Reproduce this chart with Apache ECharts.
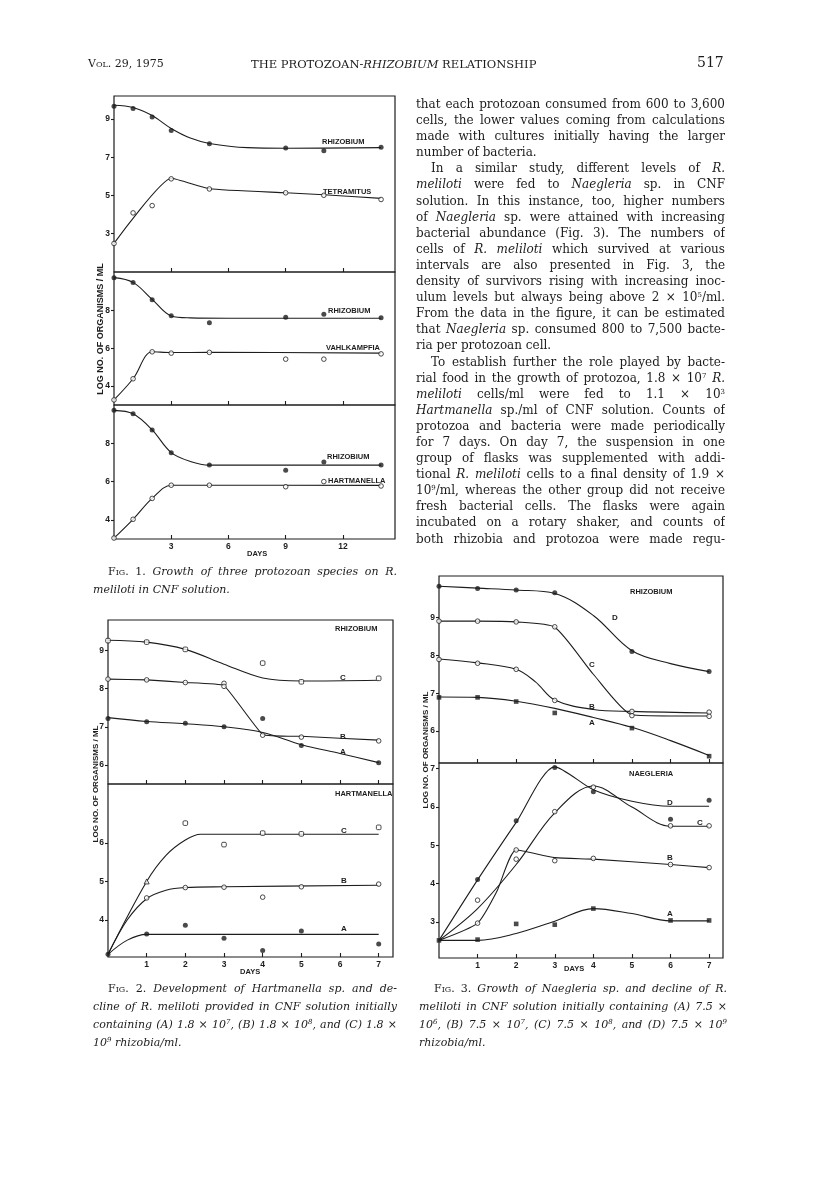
<!doctype html>
<html lang="en">
<head>
<meta charset="UTF-8">
<title>The Protozoan-Rhizobium Relationship</title>
<script src="https://cdn.jsdelivr.net/npm/echarts@6/dist/echarts.min.js"></script>
<style>
    html, body { margin: 0; padding: 0; background: #fff; }
    #page { position: relative; width: 816px; height: 1178px; overflow: hidden; background: #fff; }
    #chart { position: absolute; left: 0; top: 0; width: 816px; height: 1178px; }
    .blk { position: absolute; font-family: "DejaVu Serif", serif; color: #1c1c1c; }
    .blk .ln { text-align: justify; text-align-last: justify; overflow: hidden; }
    .blk .ln.end { text-align-last: left; }
    .blk .ind { padding-left: 15px; }
    .body { font-size: 12px; }
    .body .ln { height: 16.1px; line-height: 16.1px; }
    .cap { font-size: 11px; }
    .cap .ln { height: 18px; line-height: 18px; }
    .sc { font-variant: small-caps; font-style: normal; }
    sup { font-size: 7px; line-height: 0; vertical-align: 4px; }
    .head { position: absolute; top: 57px; font-family: "DejaVu Serif", serif; color: #1c1c1c; }
</style>
</head>
<body>
<div id="page">
    <div id="chart"></div>

    <!-- running head -->
    <div class="head sc" style="left:88px;font-size:11px;">Vol. 29, 1975</div>
    <div class="head" style="left:251px;font-size:11.5px;">THE PROTOZOAN-<i>RHIZOBIUM</i> RELATIONSHIP</div>
    <div class="head" style="left:697px;font-size:14px;top:54px;">517</div>

    <!-- right column text -->
    <div class="blk body" style="left:416px;top:96px;width:309px;">
        <div class="ln">that each protozoan consumed from 600 to 3,600</div>
        <div class="ln">cells, the lower values coming from calculations</div>
        <div class="ln">made with cultures initially having the larger</div>
        <div class="ln end">number of bacteria.</div>
        <div class="ln ind">In a similar study, different levels of <i>R.</i></div>
        <div class="ln"><i>meliloti</i> were fed to <i>Naegleria</i> sp. in CNF</div>
        <div class="ln">solution. In this instance, too, higher numbers</div>
        <div class="ln">of <i>Naegleria</i> sp. were attained with increasing</div>
        <div class="ln">bacterial abundance (Fig. 3). The numbers of</div>
        <div class="ln">cells of <i>R. meliloti</i> which survived at various</div>
        <div class="ln">intervals are also presented in Fig. 3, the</div>
        <div class="ln">density of survivors rising with increasing inoc-</div>
        <div class="ln">ulum levels but always being above 2 &times; 10<sup>5</sup>/ml.</div>
        <div class="ln">From the data in the figure, it can be estimated</div>
        <div class="ln">that <i>Naegleria</i> sp. consumed 800 to 7,500 bacte-</div>
        <div class="ln end">ria per protozoan cell.</div>
        <div class="ln ind">To establish further the role played by bacte-</div>
        <div class="ln">rial food in the growth of protozoa, 1.8 &times; 10<sup>7</sup> <i>R.</i></div>
        <div class="ln"><i>meliloti</i> cells/ml were fed to 1.1 &times; 10<sup>3</sup></div>
        <div class="ln"><i>Hartmanella</i> sp./ml of CNF solution. Counts of</div>
        <div class="ln">protozoa and bacteria were made periodically</div>
        <div class="ln">for 7 days. On day 7, the suspension in one</div>
        <div class="ln">group of flasks was supplemented with addi-</div>
        <div class="ln">tional <i>R. meliloti</i> cells to a final density of 1.9 &times;</div>
        <div class="ln">10<sup>9</sup>/ml, whereas the other group did not receive</div>
        <div class="ln">fresh bacterial cells. The flasks were again</div>
        <div class="ln">incubated on a rotary shaker, and counts of</div>
        <div class="ln">both rhizobia and protozoa were made regu-</div>
    </div>

    <!-- captions -->
    <div class="blk cap" style="left:93px;top:563px;width:304px;font-style:italic;">
        <div class="ln ind"><span class="sc">Fig. 1.</span> Growth of three protozoan species on R.</div>
        <div class="ln end">meliloti in CNF solution.</div>
    </div>
    <div class="blk cap" style="left:93px;top:980px;width:304px;font-style:italic;">
        <div class="ln ind"><span class="sc">Fig. 2.</span> Development of Hartmanella sp. and de-</div>
        <div class="ln">cline of R. meliloti provided in CNF solution initially</div>
        <div class="ln">containing (A) 1.8 &times; 10<sup>7</sup>, (B) 1.8 &times; 10<sup>8</sup>, and (C) 1.8 &times;</div>
        <div class="ln end">10<sup>9</sup> rhizobia/ml.</div>
    </div>
    <div class="blk cap" style="left:419px;top:980px;width:308px;font-style:italic;">
        <div class="ln ind"><span class="sc">Fig. 3.</span> Growth of Naegleria sp. and decline of R.</div>
        <div class="ln">meliloti in CNF solution initially containing (A) 7.5 &times;</div>
        <div class="ln">10<sup>6</sup>, (B) 7.5 &times; 10<sup>7</sup>, (C) 7.5 &times; 10<sup>8</sup>, and (D) 7.5 &times; 10<sup>9</sup></div>
        <div class="ln end">rhizobia/ml.</div>
    </div>
</div>

<script type="text/javascript">
    var INK = '#1d1d1d';

    // ---------- Fig. 1 : three protozoa on R. meliloti (log no./ml vs days) ----------
    var f1Days = [0, 1, 2, 3, 5, 9, 11, 14];
    var f1XTicks = [3, 6, 9, 12];
    // top panel
    var f1aRhizo = [9.66, 9.55, 9.10, 8.40, 7.71, 7.48, 7.34, 7.52];
    var f1aTetra = [2.49, 4.09, 4.47, 5.87, 5.34, 5.14, 5.01, 4.79];
    var f1aRhizoFit = [[0, 9.72], [1, 9.6], [2, 9.18], [3, 8.5], [4, 8.0], [5, 7.72], [7, 7.5], [9, 7.47], [14, 7.5]];
    var f1aTetraFit = [[0, 2.5], [3, 5.9], [5, 5.35], [9, 5.14], [11, 5.04], [14, 4.85]];
    var f1aYTicks = [3, 5, 7, 9];
    // middle panel
    var f1bRhizo = [9.75, 9.50, 8.58, 7.73, 7.36, 7.65, 7.81, 7.63];
    var f1bVahl = [3.27, 4.39, 5.82, 5.75, 5.79, 5.43, 5.43, 5.71];
    var f1bRhizoFit = [[0, 9.75], [1, 9.5], [2, 8.6], [3, 7.72], [4, 7.62], [6, 7.6], [14, 7.6]];
    var f1bVahlFit = [[0, 3.27], [1, 4.39], [2, 5.82], [3, 5.78], [5, 5.79], [14, 5.75]];
    var f1bYTicks = [4, 6, 8];
    // bottom panel
    var f1cRhizo = [9.72, 9.54, 8.70, 7.51, 6.86, 6.59, 7.02, 6.86];
    var f1cHart = [3.05, 4.03, 5.12, 5.81, 5.81, 5.73, 6.00, 5.77];
    var f1cRhizoFit = [[0, 9.72], [1, 9.54], [2, 8.7], [3, 7.51], [4, 7.05], [5, 6.86], [14, 6.86]];
    var f1cHartFit = [[0, 3.05], [1, 4.03], [2, 5.12], [3, 5.81], [5, 5.81], [14, 5.8]];
    var f1cYTicks = [4, 6, 8];

    // ---------- Fig. 2 : Hartmanella, inocula A/B/C ----------
    var dayTicks = [1, 2, 3, 4, 5, 6, 7];
    // top panel, rhizobium
    var f2aCDays = [0, 1, 2, 4, 5, 7];
    var f2aC = [9.26, 9.22, 9.03, 8.67, 8.18, 8.27];
    var f2aBDays = [0, 1, 2, 3, 3, 4, 5, 7];
    var f2aB = [8.25, 8.23, 8.16, 8.14, 8.06, 6.78, 6.73, 6.63];
    var f2aADays = [0, 1, 2, 3, 4, 5, 7];
    var f2aA = [7.22, 7.13, 7.09, 7.00, 7.22, 6.51, 6.06];
    var f2aCFit = [[0, 9.27], [1, 9.22], [2, 9.03], [3, 8.64], [4, 8.28], [5, 8.2], [7, 8.22]];
    var f2aBFit = [[0, 8.25], [1, 8.23], [2, 8.16], [3, 8.08], [4, 6.8], [5, 6.75], [7, 6.65]];
    var f2aAFit = [[0, 7.24], [1, 7.14], [2, 7.08], [3, 7.0], [4, 6.85], [5, 6.53], [6, 6.3], [7, 6.06]];
    var f2aYTicks = [6, 7, 8, 9];
    // bottom panel, hartmanella
    var f2bADays = [0, 1, 2, 3, 4, 5, 7];
    var f2bA = [3.10, 3.63, 3.86, 3.52, 3.20, 3.71, 3.37];
    var f2bBDays = [1, 2, 3, 4, 5, 7];
    var f2bB = [4.57, 4.84, 4.85, 4.59, 4.86, 4.93];
    var f2bCDays = [1, 2, 3, 4, 5, 7];
    var f2bC = [5.00, 6.52, 5.96, 6.26, 6.24, 6.41];
    var f2bAFit = [[0, 3.1], [0.5, 3.47], [1, 3.62], [7, 3.62]];
    var f2bBFit = [[0, 3.1], [0.5, 4.0], [1, 4.55], [1.5, 4.77], [2, 4.84], [3, 4.86], [7, 4.9]];
    var f2bCFit = [[0, 3.1], [1, 5.0], [1.5, 5.68], [2, 6.08], [2.4, 6.23], [7, 6.23]];
    var f2bYTicks = [4, 5, 6];

    // ---------- Fig. 3 : Naegleria, inocula A/B/C/D ----------
    var f3aDays = [0, 1, 2, 3, 5, 7];
    var f3aA = [6.89, 6.89, 6.78, 6.48, 6.08, 5.34];
    var f3aB = [7.89, 7.79, 7.63, 6.81, 6.52, 6.50];
    var f3aC = [8.90, 8.90, 8.88, 8.75, 6.41, 6.39];
    var f3aD = [9.82, 9.76, 9.72, 9.65, 8.10, 7.57];
    var f3aAFit = [[0, 6.9], [1, 6.89], [2, 6.79], [3, 6.6], [4, 6.36], [5, 6.1], [6, 5.75], [7, 5.36]];
    var f3aBFit = [[0, 7.9], [1, 7.8], [2, 7.63], [2.5, 7.3], [3, 6.82], [4, 6.57], [5, 6.52], [7, 6.48]];
    var f3aCFit = [[0, 8.9], [1, 8.9], [2, 8.88], [3, 8.74], [4, 7.5], [5, 6.43], [6, 6.4], [7, 6.4]];
    var f3aDFit = [[0, 9.82], [1, 9.77], [2, 9.72], [3, 9.63], [4, 9.05], [5, 8.12], [6, 7.78], [7, 7.57]];
    var f3aYTicks = [6, 7, 8, 9];
    var f3bADays = [0, 1, 2, 3, 4, 6, 7];
    var f3bA = [2.52, 2.54, 2.95, 2.93, 3.35, 3.04, 3.04];
    var f3bDays = [1, 2, 3, 4, 6, 7];
    var f3bB = [2.97, 4.88, 4.60, 4.66, 4.50, 4.42];
    var f3bC = [3.57, 4.64, 5.88, 6.52, 5.51, 5.51];
    var f3bD = [4.11, 5.64, 7.03, 6.40, 5.68, 6.18];
    var f3bAFit = [[0, 2.52], [1, 2.52], [2, 2.7], [3, 3.02], [4, 3.35], [5, 3.22], [6, 3.03], [7, 3.03]];
    var f3bBFit = [[0, 2.52], [1, 2.97], [1.5, 3.8], [2, 4.88], [3, 4.68], [4, 4.64], [6, 4.5], [7, 4.42]];
    var f3bCFit = [[0, 2.52], [1, 3.35], [2, 4.5], [3, 5.85], [4, 6.55], [5, 6.0], [6, 5.5], [7, 5.5]];
    var f3bDFit = [[0, 2.52], [1, 4.1], [2, 5.6], [3, 7.05], [4, 6.45], [5, 6.15], [6, 6.02], [7, 6.02]];
    var f3bYTicks = [3, 4, 5, 6, 7];

    //面板布局 (page pixels)
    var panels = [
        {grid: {left: 114, top: 96, width: 281, height: 176}, x: [0, 14.73], y: [1, 10.2], xt: f1XTicks, yt: f1aYTicks, lab: false},
        {grid: {left: 114, top: 272, width: 281, height: 133}, x: [0, 14.73], y: [3, 10.05], xt: f1XTicks, yt: f1bYTicks, lab: false},
        {grid: {left: 114, top: 405, width: 281, height: 134}, x: [0, 14.73], y: [3, 10], xt: f1XTicks, yt: f1cYTicks, lab: true},
        {grid: {left: 108, top: 620, width: 285, height: 164}, x: [0, 7.37], y: [5.5, 9.8], xt: dayTicks, yt: f2aYTicks, lab: false},
        {grid: {left: 108, top: 784, width: 285, height: 173}, x: [0, 7.37], y: [3.03, 7.54], xt: dayTicks, yt: f2bYTicks, lab: true},
        {grid: {left: 439, top: 576, width: 284, height: 187}, x: [0, 7.36], y: [5.16, 10.09], xt: dayTicks, yt: f3aYTicks, lab: false},
        {grid: {left: 439, top: 763, width: 284, height: 195}, x: [0, 7.36], y: [2.06, 7.15], xt: dayTicks, yt: f3bYTicks, lab: true}
    ];

    var tickFont = {color: INK, fontFamily: 'Liberation Sans', fontWeight: 'bold', fontSize: 8.5};

    var pts = function (days, vals) {
        return days.map(function (d, i) { return [d, vals[i]]; });
    };
    var curve = function (gi, data, smooth) {
        return {
            type: 'line', xAxisIndex: gi, yAxisIndex: gi, data: data,
            smooth: smooth === undefined ? 0.35 : smooth, symbol: 'none',
            lineStyle: {color: INK, width: 1.1}, z: 2, silent: true
        };
    };
    var MARK = {
        dot: {symbol: 'circle', symbolSize: 5, itemStyle: {color: INK}},
        ring: {symbol: 'circle', symbolSize: 4.6, itemStyle: {color: '#fff', borderColor: INK, borderWidth: 1}},
        box: {symbol: 'roundRect', symbolSize: 4.6, itemStyle: {color: '#fff', borderColor: INK, borderWidth: 1}},
        sq: {symbol: 'rect', symbolSize: 4.6, itemStyle: {color: INK}}
    };
    var dots = function (gi, data, kind) {
        var s = {type: 'scatter', xAxisIndex: gi, yAxisIndex: gi, data: data, z: 5, silent: true};
        for (var k in MARK[kind]) s[k] = MARK[kind][k];
        return s;
    };

    var grids = [], xAxes = [], yAxes = [];
    panels.forEach(function (p, gi) {
        grids.push({left: p.grid.left, top: p.grid.top, width: p.grid.width, height: p.grid.height,
            show: true, borderColor: INK, borderWidth: 1.2, backgroundColor: 'transparent'});
        xAxes.push({
            type: 'value', gridIndex: gi, min: p.x[0], max: p.x[1],
            axisLine: {show: false}, splitLine: {show: false},
            axisTick: {show: true, inside: true, length: 4, customValues: p.xt, lineStyle: {color: INK, width: 1.1}},
            axisLabel: Object.assign({show: p.lab, customValues: p.xt, margin: 3}, tickFont)
        });
        yAxes.push({
            type: 'value', gridIndex: gi, min: p.y[0], max: p.y[1],
            axisLine: {show: false}, splitLine: {show: false},
            axisTick: {show: true, inside: false, length: 3, customValues: p.yt, lineStyle: {color: INK, width: 1.1}},
            axisLabel: Object.assign({customValues: p.yt, margin: 4}, tickFont)
        });
    });

    var series = [
        // Fig. 1
        curve(0, f1aRhizoFit), curve(0, f1aTetraFit, 0.15),
        dots(0, pts(f1Days, f1aRhizo), 'dot'), dots(0, pts(f1Days, f1aTetra), 'ring'),
        curve(1, f1bRhizoFit), curve(1, f1bVahlFit),
        dots(1, pts(f1Days, f1bRhizo), 'dot'), dots(1, pts(f1Days, f1bVahl), 'ring'),
        curve(2, f1cRhizoFit), curve(2, f1cHartFit),
        dots(2, pts(f1Days, f1cRhizo), 'dot'), dots(2, pts(f1Days, f1cHart), 'ring'),
        // Fig. 2
        curve(3, f2aCFit), curve(3, f2aBFit, 0.1), curve(3, f2aAFit),
        dots(3, pts(f2aCDays, f2aC), 'box'), dots(3, pts(f2aBDays, f2aB), 'ring'), dots(3, pts(f2aADays, f2aA), 'dot'),
        curve(4, f2bAFit), curve(4, f2bBFit), curve(4, f2bCFit),
        dots(4, pts(f2bADays, f2bA), 'dot'), dots(4, pts(f2bBDays, f2bB), 'ring'), dots(4, pts(f2bCDays, f2bC), 'box'),
        // Fig. 3
        curve(5, f3aAFit), curve(5, f3aBFit), curve(5, f3aCFit, 0.2), curve(5, f3aDFit),
        dots(5, pts(f3aDays, f3aA), 'sq'), dots(5, pts(f3aDays, f3aB), 'ring'),
        dots(5, pts(f3aDays, f3aC), 'ring'), dots(5, pts(f3aDays, f3aD), 'dot'),
        curve(6, f3bAFit), curve(6, f3bBFit, 0.2), curve(6, f3bCFit), curve(6, f3bDFit, 0.25),
        dots(6, pts(f3bADays, f3bA), 'sq'), dots(6, pts(f3bDays, f3bB), 'ring'),
        dots(6, pts(f3bDays, f3bC), 'ring'), dots(6, pts(f3bDays, f3bD), 'dot')
    ];
    // day-1 point of curve C (Fig. 2, lower) is drawn as a triangle
    series[23].data[0] = {value: series[23].data[0], symbol: 'triangle', symbolSize: 5};

    var txt = function (x, y, s, size, rot) {
        return {
            type: 'text', x: x, y: y, rotation: rot || 0, silent: true,
            style: {
                text: s, fill: INK, font: 'bold ' + (size || 7.5) + 'px "Liberation Sans"',
                textAlign: rot ? 'center' : 'left', textVerticalAlign: 'middle'
            }
        };
    };
    var graphic = [
        // Fig. 1
        txt(322, 142, 'RHIZOBIUM'), txt(323, 192, 'TETRAMITUS'),
        txt(328, 311, 'RHIZOBIUM'), txt(326, 348, 'VAHLKAMPFIA'),
        txt(327, 457, 'RHIZOBIUM'), txt(328, 481, 'HARTMANELLA'),
        txt(247, 554, 'DAYS', 7.5),
        txt(101, 329, 'LOG NO. OF ORGANISMS / ML', 9, Math.PI / 2),
        // Fig. 2
        txt(335, 629, 'RHIZOBIUM'), txt(340, 678, 'C', 8), txt(340, 737, 'B', 8), txt(340, 752, 'A', 8),
        txt(335, 794, 'HARTMANELLA'), txt(341, 831, 'C', 8), txt(341, 881, 'B', 8), txt(341, 929, 'A', 8),
        txt(240, 972, 'DAYS', 7.5),
        txt(96, 784, 'LOG NO. OF ORGANISMS / ML', 8, Math.PI / 2),
        // Fig. 3
        txt(630, 592, 'RHIZOBIUM'), txt(612, 618, 'D', 8), txt(589, 665, 'C', 8), txt(589, 707, 'B', 8), txt(589, 723, 'A', 8),
        txt(629, 774, 'NAEGLERIA'), txt(667, 803, 'D', 8), txt(697, 823, 'C', 8), txt(667, 858, 'B', 8), txt(667, 914, 'A', 8),
        txt(564, 969, 'DAYS', 7.5),
        txt(426, 750, 'LOG NO. OF ORGANISMS / ML', 8, Math.PI / 2)
    ];

    var myChart = echarts.init(document.getElementById('chart'), null, {renderer: 'canvas'});
    myChart.setOption({
        animation: false,
        backgroundColor: 'transparent',
        grid: grids,
        xAxis: xAxes,
        yAxis: yAxes,
        series: series,
        graphic: graphic
    });
</script>
</body>
</html>
